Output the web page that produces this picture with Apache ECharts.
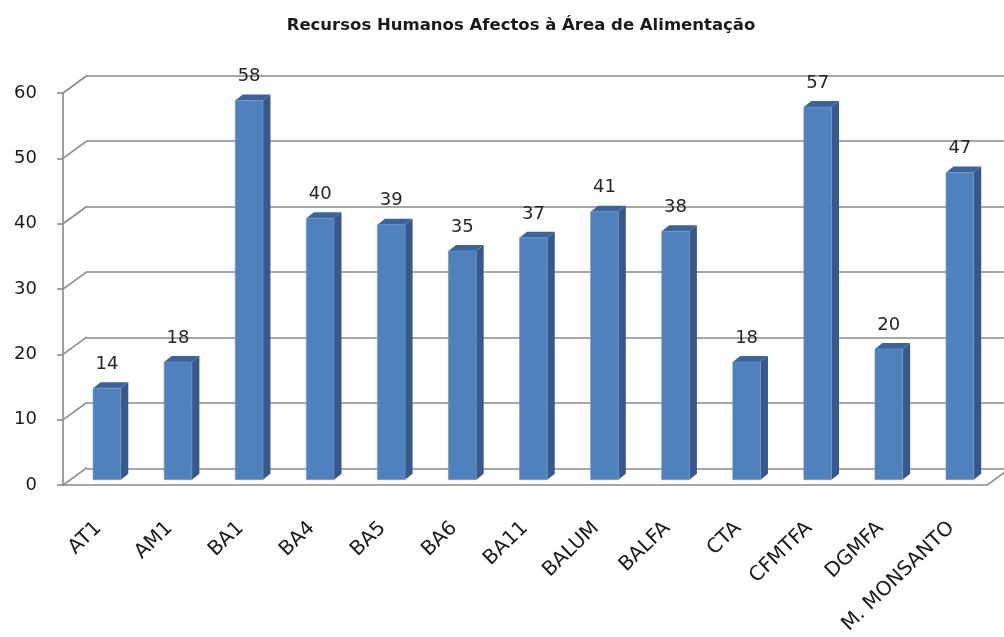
<!DOCTYPE html>
<html>
<head>
<meta charset="utf-8">
<script src="https://cdn.jsdelivr.net/npm/echarts@6/dist/echarts.min.js"></script>
<style>html,body{margin:0;padding:0;background:#fff}#c{width:1004px;height:637px}</style>
</head>
<body>
<div id="c"></div>
<script>
const categories = ['AT1','AM1','BA1','BA4','BA5','BA6','BA11','BALUM','BALFA','CTA','CFMTFA','DGMFA','M. MONSANTO'];
const values = [14,18,58,40,39,35,37,41,38,18,57,20,47];
const yTicks = [0,10,20,30,40,50,60];
const titleText = 'Recursos Humanos Afectos à Área de Alimentação';

const DX = 24, DY = -17.5;     // back wall offset
const BDX = 7.5, BDY = -6;     // bar depth

const chart = echarts.init(document.getElementById('c'));
const gray = '#8a8a8a';
chart.setOption({
  animation: false,
  backgroundColor: '#fff',
  title: {
    text: titleText, left: 516, top: 12, textAlign: 'center',
    textStyle: { fontFamily: 'DejaVu Sans', fontWeight: 'bold', fontSize: 16.5, color: '#1a1a1a' }
  },
  grid: [
    { left: 63, top: 93, width: 924, height: 393 },
    { left: 63 + DX, top: 93 + DY, width: 924, height: 393 }
  ],
  xAxis: [
    { gridIndex: 0, type: 'category', data: categories,
      axisLine: { lineStyle: { color: gray, width: 1.6 } },
      axisTick: { length: 6, lineStyle: { color: gray, width: 1.6 } },
      axisLabel: { rotate: 44, margin: 40, fontFamily: 'DejaVu Sans', fontSize: 20, color: '#1a1a1a', interval: 0 } },
    { gridIndex: 1, type: 'category', data: categories, show: false }
  ],
  yAxis: [
    { gridIndex: 0, type: 'value', min: 0, max: 60, interval: 10,
      axisLine: { show: true, lineStyle: { color: gray, width: 1.6 } },
      axisTick: { show: true, length: 6, lineStyle: { color: gray, width: 1.6 } },
      splitLine: { show: false },
      axisLabel: { margin: 26, fontFamily: 'DejaVu Sans', fontSize: 18, color: '#1a1a1a' } },
    { gridIndex: 1, type: 'value', min: 0, max: 60, interval: 10,
      axisLine: { show: false }, axisTick: { show: false }, axisLabel: { show: false },
      splitLine: { show: true, lineStyle: { color: gray, width: 1.6 } } }
  ],
  series: [
    { type: 'custom', xAxisIndex: 0, yAxisIndex: 0, z: 1, silent: true,
      data: yTicks.map(v => [0, v]),
      renderItem: function (params, api) {
        const cs = params.coordSys;
        const y = api.coord([0, api.value(1)])[1];
        const children = [{ type: 'line', shape: { x1: cs.x, y1: y, x2: cs.x + DX, y2: y + DY },
          style: { stroke: gray, lineWidth: 1.6 } }];
        if (api.value(1) === 0) {
          children.push({ type: 'line', shape: { x1: cs.x + cs.width, y1: y, x2: cs.x + cs.width + DX, y2: y + DY },
            style: { stroke: gray, lineWidth: 1.6 } });
        }
        return { type: 'group', children: children };
      }
    },
    { type: 'custom', xAxisIndex: 0, yAxisIndex: 0, z: 5, silent: true,
      data: values.map((v, i) => [i, v]),
      renderItem: function (params, api) {
        const i = api.value(0), v = api.value(1);
        const band = api.size([1, 0])[0];
        const c = api.coord([i, 0]);
        const t = api.coord([i, v]);
        const w = band * 0.39;
        const x0 = c[0] - band * 0.077;
        const off = -5.5;
        const yb = c[1] + off, yt = t[1] + off;
        const x1 = x0 + w;
        return { type: 'group', children: [
          { type: 'polygon', shape: { points: [[x1, yb], [x1 + BDX, yb + BDY], [x1 + BDX, yt + BDY], [x1, yt]] },
            style: { fill: '#36598a' } },
          { type: 'polygon', shape: { points: [[x0, yt], [x1, yt], [x1 + BDX, yt + BDY], [x0 + BDX, yt + BDY]] },
            style: { fill: '#3c649b' } },
          { type: 'rect', shape: { x: x0, y: yt, width: w, height: yb - yt },
            style: { fill: '#4f81bd', stroke: '#6f98cc', lineWidth: 0.6 } },
          { type: 'text', x: x0 + w / 2, y: yt - 24,
            style: { text: String(v), fontFamily: 'DejaVu Sans', fontSize: 18, fill: '#262626',
              align: 'center', verticalAlign: 'middle' } }
        ] };
      }
    }
  ]
});
</script>
</body>
</html>
